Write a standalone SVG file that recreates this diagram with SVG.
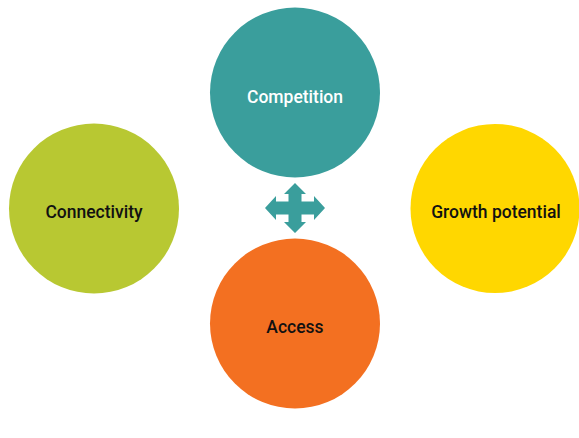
<svg xmlns="http://www.w3.org/2000/svg" width="579" height="438" viewBox="0 0 579 438">
<style>
text{font-family:Roboto,"Liberation Sans",sans-serif;font-weight:500;font-size:17.5px;text-anchor:middle;dominant-baseline:central}
.d{fill:#111}
.w{fill:#fff}
</style>
<rect width="579" height="438" fill="#fff"/>
<g id="connectors">
<path fill="#3A9E9C" d="M295,183 L306,194 L301.5,194 L301.5,201.5 L314,201.5 L314,196 L325,208 L314,220 L314,214.5 L301.5,214.5 L301.5,222 L306,222 L295,233 L284,222 L288.5,222 L288.5,214.5 L276,214.5 L276,220 L265,208 L276,196 L276,201.5 L288.5,201.5 L288.5,194 L284,194 Z"/>
</g>
<g id="competition">
<circle cx="295" cy="92.5" r="85" fill="#3A9E9C"/>
<text class="w" x="295" y="96.5">Competition</text>
</g>
<g id="connectivity">
<circle cx="94" cy="208.5" r="85" fill="#B8C832"/>
<text class="d" x="94" y="211.5">Connectivity</text>
</g>
<g id="growth">
<circle cx="495" cy="208.5" r="84.5" fill="#FFD700"/>
<text class="d" x="496" y="211.5">Growth potential</text>
</g>
<g id="access">
<circle cx="295" cy="323.5" r="85" fill="#F37021"/>
<text class="d" x="295" y="326.5">Access</text>
</g>
</svg>
